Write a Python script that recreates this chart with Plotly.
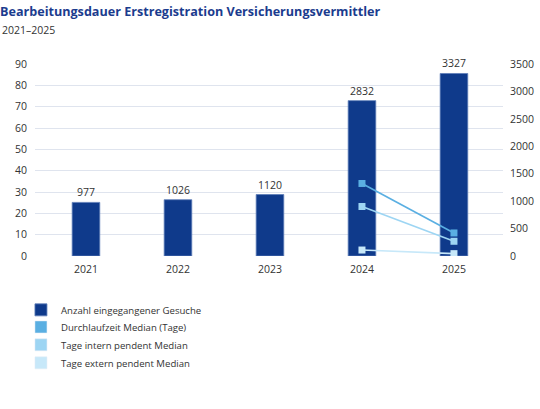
import plotly.graph_objects as go

years = ["2021", "2022", "2023", "2024", "2025"]
gesuche = [977, 1026, 1120, 2832, 3327]
durchlauf_median = [None, None, None, 34, 10.8]
intern_median = [None, None, None, 23.2, 6.9]
extern_median = [None, None, None, 2.8, 1.1]

dark_blue = "#0f3a8b"
c_durch = "#5aafe2"
c_intern = "#9dd5f3"
c_extern = "#c7e8f9"
txt = "#333333"
font_family = "Open Sans"

fig = go.Figure()

fig.add_trace(go.Bar(
    x=years, y=gesuche, name="Anzahl eingegangener Gesuche",
    marker=dict(color=dark_blue, line=dict(color="#5d7cb8", width=0.8)),
    text=[str(v) for v in gesuche], textposition="outside",
    textfont=dict(size=10.5, color=txt), cliponaxis=False,
    yaxis="y", legend="legend",
))

line_series = [
    ("Durchlaufzeit Median (Tage)", durchlauf_median, c_durch, "legend2"),
    ("Tage intern pendent Median", intern_median, c_intern, "legend3"),
    ("Tage extern pendent Median", extern_median, c_extern, "legend4"),
]
for name, vals, col, leg in line_series:
    fig.add_trace(go.Scatter(
        x=years, y=vals, name=name, mode="lines+markers",
        line=dict(color=col, width=1.6),
        marker=dict(symbol="square", size=7, color=col),
        yaxis="y2", showlegend=False, legendgroup=name,
    ))
    # legend swatch as a square
    fig.add_trace(go.Bar(
        x=[years[0]], y=[None], name=name, marker=dict(color=col),
        yaxis="y", legendgroup=name, showlegend=True, legend=leg,
    ))


def legend_at(y):
    return dict(
        orientation="v", x=-0.03, xanchor="left", y=y, yanchor="top",
        font=dict(size=9.6, color=txt), itemwidth=30,
        bgcolor="rgba(0,0,0,0)",
    )


fig.update_layout(
    width=540, height=409,
    margin=dict(l=35, r=37, t=64, b=153, autoexpand=False),
    paper_bgcolor="white", plot_bgcolor="white",
    font=dict(family=font_family, size=10.5, color=txt),
    title=dict(
        text="<b>Bearbeitungsdauer Erstregistration Versicherungsvermittler</b>",
        x=0, xref="container", xanchor="left",
        y=1 - 12 / 409, yref="container", yanchor="middle",
        font=dict(size=12.6, color="#1b3c8e", family=font_family),
    ),
    annotations=[dict(
        text="2021–2025", xref="paper", yref="paper",
        x=-0.075, y=1 + 34 / 192,
        xanchor="left", yanchor="middle", showarrow=False,
        font=dict(size=10.5, color=txt),
    )],
    barmode="overlay",
    bargap=0.7,
    xaxis=dict(
        type="category", range=[-0.554, 4.533], automargin=False,
        showgrid=False, showline=False, ticks="",
        tickfont=dict(size=10.5, color=txt), ticklabelstandoff=5,
    ),
    yaxis=dict(
        side="right", range=[0, 3500], dtick=500, automargin=False,
        showgrid=False, zeroline=False, showline=False,
        tickfont=dict(size=10.5, color=txt), ticklabelstandoff=6,
    ),
    yaxis2=dict(
        overlaying="y", side="left", range=[0, 90], dtick=10, automargin=False,
        showgrid=True, gridcolor="#dfe4ee", gridwidth=1,
        zeroline=False, showline=False,
        tickfont=dict(size=10.5, color=txt), ticklabelstandoff=7,
    ),
    legend=legend_at(-0.205),
    legend2=legend_at(-0.294),
    legend3=legend_at(-0.387),
    legend4=legend_at(-0.481),
    showlegend=True,
)

fig.write_html("out.html", config={"displayModeBar": False},
               post_script="document.body.style.margin='0';")
